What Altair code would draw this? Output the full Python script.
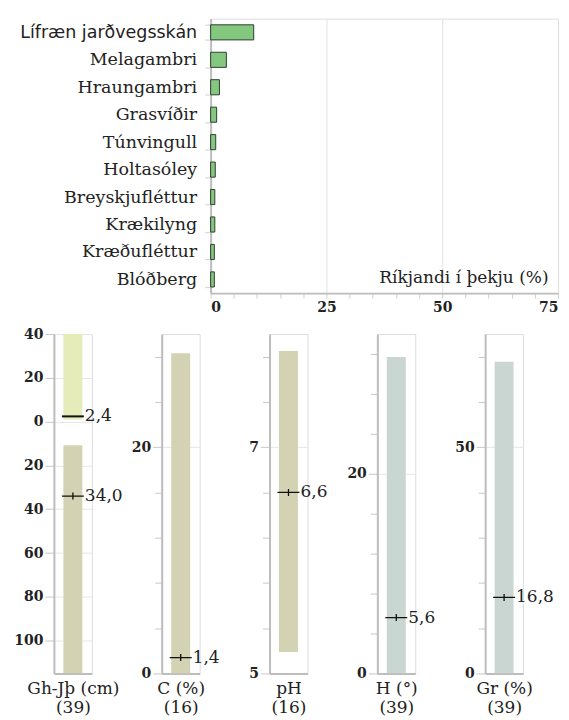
import altair as alt
import numpy as np
import pandas as pd

# ---------------- data ----------------
species = ["Lífræn jarðvegsskán", "Melagambri", "Hraungambri", "Grasvíðir",
           "Túnvingull", "Holtasóley", "Breyskjufléttur", "Krækilyng",
           "Kræðufléttur", "Blóðberg"]
cover = [9.3, 3.4, 1.9, 1.3, 1.1, 1.0, 0.9, 0.9, 0.8, 0.8]

panel_titles = ["Gh-Jþ (cm)", "C (%)", "pH", "H (°)", "Gr (%)"]
panel_n = [39, 16, 16, 39, 39]
range_low = [10.8, 0.0, 5.19, 0.0, 0.0]
range_high = [115.0, 28.3, 7.85, 31.7, 68.9]
medians = [34.0, 1.4, 6.6, 5.6, 16.8]
axis_min = [-40, 0, 5, 0, 0]
axis_max = [115, 30, 8, 34, 75]
minor_step = [5, 2, 0.2, 2, 5]
major_step = [20, 10, 1, 10, 25]
bar_colors = ["#d3d3b3", "#d3d3b3", "#d3d3b3", "#cad6d2", "#cad6d2"]

# organic layer above ground (first panel, negative = above surface)
upper_low = -40.0
upper_high = -1.0
upper_median = -2.4

SERIF = "DejaVu Serif"
SANS = "DejaVu Sans"
CREAM = "#fefaef"
INK = "#222222"
AXIS_GRAY = "#bdbdbd"

# ---------------- top chart ----------------
top_df = pd.DataFrame({"species": species, "cover": cover})

top = alt.Chart(top_df).mark_bar(
    color="#84c77f", stroke="#2f3f2f", strokeWidth=1
).encode(
    y=alt.Y("species:N", sort=species,
            scale=alt.Scale(paddingInner=0.45, paddingOuter=0.225),
            axis=alt.Axis(
                title=None,
                labelFont={"condition": {"test": "datum.value === 'Lífræn jarðvegsskán'", "value": SANS},
                           "value": SERIF},
                labelFontSize=17.5,
                labelColor=INK, labelPadding=8, tickBand="extent",
                tickSize=6, tickColor="#d0d0d0", domainColor=AXIS_GRAY, domainWidth=2,
                labelLimit=300)),
    x=alt.X("cover:Q",
            scale=alt.Scale(domain=[0, 75], nice=False, zero=True),
            axis=alt.Axis(
                title="Ríkjandi í þekju (%)",
                titleFont=SERIF, titleFontSize=17, titleFontWeight="normal", titleColor=INK,
                titleAnchor="end", titleAlign="right", titleBaseline="alphabetic",
                titleY=-11, titleX=338,
                values=list(range(0, 80, 5)),
                labelExpr="datum.value % 25 === 0 ? datum.label : ''",
                labelFont=SERIF, labelFontSize=14, labelFontWeight="bold", labelColor=INK,
                labelPadding=2,
                gridColor={"condition": {"test": "datum.value === 25 || datum.value === 50",
                                         "value": "#e2e2e2"}, "value": "transparent"},
                tickSize=5, tickColor="#cfcfcf", domainColor=AXIS_GRAY, domainWidth=2)),
).properties(width=348, height=275)

# empty anchor view (no marks) so that the top row lines up with the bottom row
anchor = alt.Chart(pd.DataFrame({"a": pd.Series([], dtype=float)})).mark_point(
    size=0, strokeWidth=0, opacity=0
).encode(
    x=alt.X("a:Q", axis=None), y=alt.Y("a:Q", axis=None)
).properties(width=1, height=1, view=alt.ViewBackground(fill=None, stroke=None))

# ---------------- bottom panels ----------------
def panel(i):
    major = major_step[i]
    test = f"abs(datum.value / {major} - round(datum.value / {major})) < 1e-6"
    ticks = [float(round(v, 4)) for v in np.arange(axis_min[i], axis_max[i] + 1e-9, minor_step[i])]
    lab = f"{test} ? format(abs(datum.value), 'd') : ''"

    yscale = alt.Scale(domain=[axis_min[i], axis_max[i]], nice=False, zero=False,
                       reverse=(i == 0))
    yaxis = alt.Axis(
        title=None, values=ticks, labelExpr=lab,
        labelFont=SERIF, labelFontSize=14, labelFontWeight="bold", labelColor=INK,
        labelPadding=2,
        tickSize={"condition": {"test": test, "value": 9}, "value": 7},
        tickColor="#c8c8c8",
        gridColor={"condition": {"test": test, "value": "#e6e6e6"}, "value": "transparent"},
        domainColor=AXIS_GRAY, domainWidth=2, minExtent=41, maxExtent=41)
    xscale = alt.Scale(domain=[0, 1], nice=False)
    xaxis = alt.Axis(
        title=[panel_titles[i], f"({panel_n[i]})"],
        titleFont=SERIF, titleFontSize=17, titleFontWeight="normal", titleColor=INK,
        titleLineHeight=19, titlePadding=7,
        labels=False, ticks=False, grid=False, domainColor=AXIS_GRAY, domainWidth=2)

    bar_df = pd.DataFrame({"lo": [range_low[i]], "hi": [range_high[i]]})
    med_df = pd.DataFrame({"m": [medians[i]],
                           "txt": [f"{medians[i]:.1f}".replace(".", ",")]})

    layers = []
    if i == 0:
        up_df = pd.DataFrame({"lo": [upper_low], "hi": [upper_high]})
        layers.append(alt.Chart(up_df).mark_bar(color="#e5ebb9", clip=True).encode(
            x=alt.X(datum=0.25, scale=xscale, axis=xaxis), x2=alt.datum(0.75),
            y=alt.Y("lo:Q", scale=yscale, axis=yaxis), y2="hi:Q"))
    layers.append(alt.Chart(bar_df).mark_bar(color=bar_colors[i], clip=True).encode(
        x=alt.X(datum=0.25, scale=xscale, axis=xaxis), x2=alt.datum(0.75),
        y=alt.Y("lo:Q", scale=yscale, axis=yaxis), y2="hi:Q"))
    layers.append(alt.Chart(med_df).mark_point(
        shape="M-1,0H1M0,-0.32V0.32", size=484, filled=False,
        color="#111111", strokeWidth=1.3, opacity=1).encode(
        x=alt.X(datum=0.5, scale=xscale), y=alt.Y("m:Q", scale=yscale)))
    layers.append(alt.Chart(med_df).mark_text(
        align="left", baseline="middle", dx=12, font=SERIF, fontSize=17,
        color=INK).encode(
        x=alt.X(datum=0.5, scale=xscale), y=alt.Y("m:Q", scale=yscale), text="txt:N"))
    if i == 0:
        up_med = pd.DataFrame({"m": [upper_median],
                               "txt": [f"{abs(upper_median):.1f}".replace(".", ",")]})
        layers.append(alt.Chart(up_med).mark_point(
            shape="M-1,0H1", size=484, filled=False, color="#111111",
            strokeWidth=2, opacity=1).encode(
            x=alt.X(datum=0.5, scale=xscale), y=alt.Y("m:Q", scale=yscale)))
        layers.append(alt.Chart(up_med).mark_text(
            align="left", baseline="middle", dx=12, font=SERIF, fontSize=17,
            color=INK).encode(
            x=alt.X(datum=0.5, scale=xscale), y=alt.Y("m:Q", scale=yscale), text="txt:N"))
    return alt.layer(*layers).properties(width=38, height=340)

bottom = alt.hconcat(*[panel(i) for i in range(5)], spacing=70, bounds="flush")
top_row = alt.hconcat(anchor, top, spacing=156, bounds="flush")

chart = alt.vconcat(top_row, bottom, spacing=11).properties(
    padding={"left": 4, "top": 0, "right": 2, "bottom": 2}
).configure_view(fill=CREAM, stroke=None).configure(background="white")

chart.save("out.html", embed_options={"renderer": "svg", "actions": False})
